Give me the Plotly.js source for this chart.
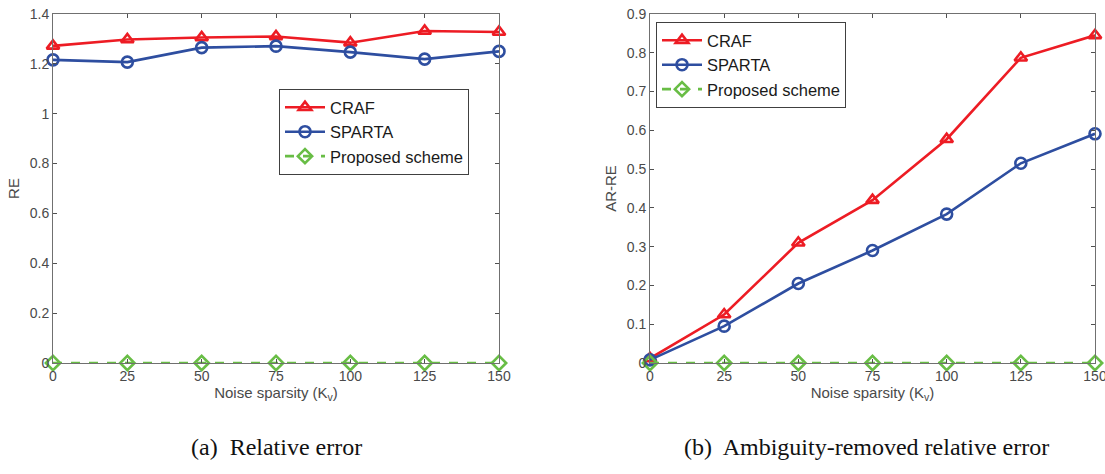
<!DOCTYPE html>
<html>
<head>
<meta charset="utf-8">
<script src="https://cdn.plot.ly/plotly-3.0.1.min.js"></script>
<style>html,body{margin:0;padding:0;background:#fff;}#chart{width:1105px;height:474px;}</style>
</head>
<body>
<div id="chart"></div>
<script>
// Data
var noiseSparsity = [0, 25, 50, 75, 100, 125, 150];
var reCRAF = [1.272, 1.298, 1.306, 1.310, 1.285, 1.332, 1.328];
var reSPARTA = [1.216, 1.207, 1.265, 1.271, 1.247, 1.219, 1.250];
var reProposed = [0, 0, 0, 0, 0, 0, 0];
var arreCRAF = [0.012, 0.125, 0.310, 0.420, 0.577, 0.787, 0.845];
var arreSPARTA = [0.008, 0.095, 0.205, 0.290, 0.384, 0.515, 0.591];
var arreProposed = [0, 0, 0, 0, 0, 0, 0];
var seriesNames = ["CRAF", "SPARTA", "Proposed scheme"];
var xTicks = [0, 25, 50, 75, 100, 125, 150];
var yTicksLeft = [0, 0.2, 0.4, 0.6, 0.8, 1, 1.2, 1.4];
var yTicksRight = [0, 0.1, 0.2, 0.3, 0.4, 0.5, 0.6, 0.7, 0.8, 0.9];

var red = "rgb(237,28,36)", blue = "rgb(46,78,160)", green = "rgb(104,189,69)";

function mk(y, name, color, symbol, dash, xa, ya, leg) {
  return {
    x: noiseSparsity, y: y, name: name, type: "scatter", mode: "lines+markers",
    xaxis: xa, yaxis: ya, legend: leg, showlegend: true, cliponaxis: false,
    line: {color: color, width: 2.6, dash: dash},
    marker: {symbol: symbol, size: 11, color: color, line: {color: color, width: 2.6}}
  };
}

var traces = [
  mk(reCRAF, seriesNames[0], red, "triangle-up-open", "solid", "x", "y", "legend"),
  mk(reSPARTA, seriesNames[1], blue, "circle-open", "solid", "x", "y", "legend"),
  mk(reProposed, seriesNames[2], green, "diamond-open", "dash", "x", "y", "legend"),
  mk(arreCRAF, seriesNames[0], red, "triangle-up-open", "solid", "x2", "y2", "legend2"),
  mk(arreSPARTA, seriesNames[1], blue, "circle-open", "solid", "x2", "y2", "legend2"),
  mk(arreProposed, seriesNames[2], green, "diamond-open", "dash", "x2", "y2", "legend2")
];

var tickFont = {family: "Liberation Sans, Arial, sans-serif", size: 14, color: "#4a4a4a"};
var titleFont = {family: "Liberation Sans, Arial, sans-serif", size: 15, color: "#4a4a4a"};
function xax(dom, anchor) {
  return {
    domain: dom, anchor: anchor, range: [0, 150], tickvals: xTicks, ticktext: xTicks.map(String),
    showgrid: false, zeroline: false, showline: true, mirror: "ticks", linecolor: "#707070", linewidth: 1,
    ticks: "inside", ticklen: 4, tickcolor: "#505050", tickfont: tickFont, ticklabeloverflow: "allow",
    title: {text: "Noise sparsity (K<sub>v</sub>)", font: titleFont, standoff: 0}
  };
}
function yax(dom, anchor, rng, tv, title) {
  return {
    domain: dom, anchor: anchor, range: rng, tickvals: tv, ticktext: tv.map(String),
    showgrid: false, zeroline: false, showline: true, mirror: "ticks", linecolor: "#707070", linewidth: 1,
    ticks: "inside", ticklen: 4, tickcolor: "#505050", tickfont: tickFont, ticklabeloverflow: "allow",
    title: {text: title, font: titleFont, standoff: 6}
  };
}

var W = 1105, H = 474;
var legFont = {family: "Liberation Sans, Arial, sans-serif", size: 16.5, color: "#1a1a1a"};
var layout = {
  width: W, height: H,
  margin: {l: 0, r: 0, t: 0, b: 0},
  paper_bgcolor: "#fff", plot_bgcolor: "#fff",
  showlegend: true,
  xaxis: xax([53 / W, 499 / W], "y"),
  yaxis: yax([1 - 363 / H, 1 - 14 / H], "x", [0, 1.4], yTicksLeft, "RE"),
  xaxis2: xax([650 / W, 1095 / W], "y2"),
  yaxis2: yax([1 - 363 / H, 1 - 14 / H], "x2", [0, 0.9], yTicksRight, "AR-RE"),
  legend: {x: 279 / W, y: 1 - 89 / H, xanchor: "left", yanchor: "top", bgcolor: "#fff",
           bordercolor: "#404040", borderwidth: 1, font: legFont, tracegroupgap: 0, itemwidth: 40},
  legend2: {x: 656 / W, y: 1 - 22 / H, xanchor: "left", yanchor: "top", bgcolor: "#fff",
            bordercolor: "#404040", borderwidth: 1, font: legFont, tracegroupgap: 0, itemwidth: 40},
  annotations: [
    {text: "(a)  Relative error", x: 276 / W, y: 1 - 447 / H, xref: "paper", yref: "paper",
     showarrow: false, xanchor: "center", yanchor: "middle",
     font: {family: "Liberation Serif, Times New Roman, serif", size: 24, color: "#111"}},
    {text: "(b)  Ambiguity-removed relative error", x: 866 / W, y: 1 - 447 / H, xref: "paper", yref: "paper",
     showarrow: false, xanchor: "center", yanchor: "middle",
     font: {family: "Liberation Serif, Times New Roman, serif", size: 24, color: "#111"}}
  ]
};

Plotly.newPlot("chart", traces, layout, {displayModeBar: false, staticPlot: true});
</script>
</body>
</html>
